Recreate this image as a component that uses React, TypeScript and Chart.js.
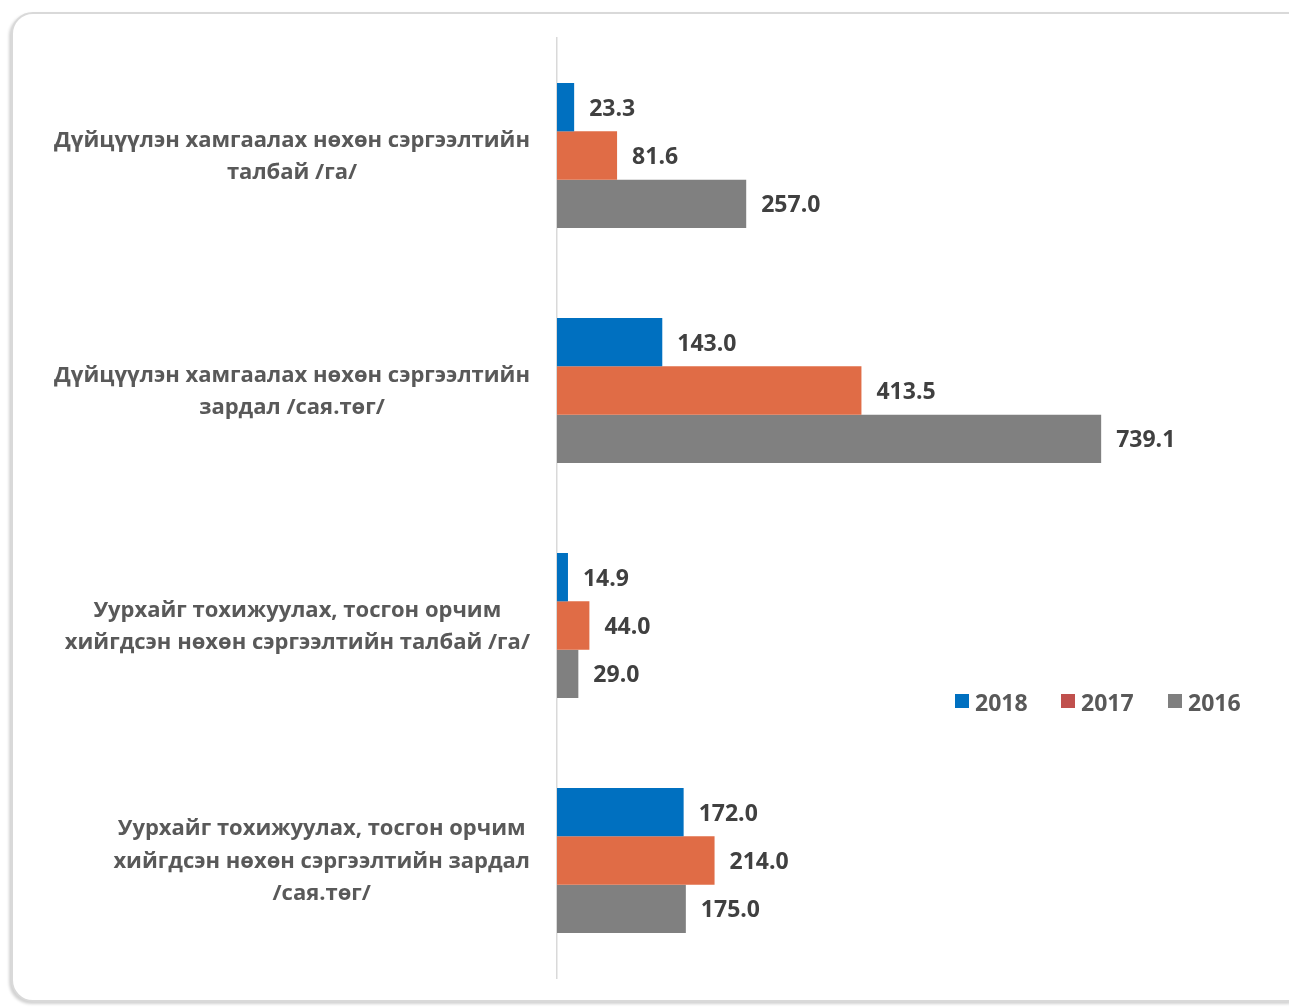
import React, { useEffect, useRef } from "react";
import { Chart, registerables } from "chart.js";

Chart.register(...registerables);

const categories: string[][] = [
  ["Дүйцүүлэн хамгаалах нөхөн сэргээлтийн", "талбай /га/"],
  ["Дүйцүүлэн хамгаалах нөхөн сэргээлтийн", "зардал /сая.төг/"],
  ["Уурхайг тохижуулах, тосгон орчим", "хийгдсэн нөхөн сэргээлтийн талбай /га/"],
  ["Уурхайг тохижуулах, тосгон орчим", "хийгдсэн нөхөн сэргээлтийн зардал", "/сая.төг/"],
];
const seriesNames = ["2018", "2017", "2016"];
const values2018 = [23.3, 143.0, 14.9, 172.0];
const values2017 = [81.6, 413.5, 44.0, 214.0];
const values2016 = [257.0, 739.1, 29.0, 175.0];

const barColors = ["#0070C0", "#E06C46", "#808080"];
const legendColors = ["#0070C0", "#C0504D", "#7F7F7F"];
const FONT = "'Open Sans', sans-serif";

const labelPlugin = {
  id: "customLabels",
  afterDatasetsDraw(chart: any) {
    const ctx = chart.ctx as CanvasRenderingContext2D;
    ctx.save();
    // data labels
    ctx.font = `bold 23px ${FONT}`;
    ctx.fillStyle = "#404040";
    ctx.textBaseline = "middle";
    ctx.textAlign = "left";
    chart.data.datasets.forEach((ds: any, di: number) => {
      const meta = chart.getDatasetMeta(di);
      meta.data.forEach((el: any, i: number) => {
        ctx.fillText(Number(ds.data[i]).toFixed(1), el.x + 15, el.y + 2);
      });
    });
    // category labels
    const yScale = chart.scales.y;
    ctx.font = `bold 22px ${FONT}`;
    ctx.fillStyle = "#595959";
    ctx.textAlign = "center";
    const rightEdge = 530;
    const lineH = 32.5;
    categories.forEach((lines, i) => {
      const cy = yScale.getPixelForValue(i);
      let maxW = 0;
      lines.forEach((l) => (maxW = Math.max(maxW, ctx.measureText(l).width)));
      const cx = rightEdge - maxW / 2;
      const startY = cy + 1 - ((lines.length - 1) * lineH) / 2;
      lines.forEach((l, k) => ctx.fillText(l, cx, startY + k * lineH));
    });
    ctx.restore();
  },
};

export default function App() {
  const ref = useRef<HTMLCanvasElement | null>(null);
  useEffect(() => {
    if (!ref.current) return;
    const chart = new Chart(ref.current, {
      type: "bar",
      data: {
        labels: categories.map((c) => c.join(" ")),
        datasets: [values2018, values2017, values2016].map((d, i) => ({
          label: seriesNames[i],
          data: d,
          backgroundColor: barColors[i],
          borderWidth: 0,
          barPercentage: 1.0,
          categoryPercentage: 0.617,
        })),
      },
      options: {
        indexAxis: "y",
        animation: false,
        responsive: false,
        maintainAspectRatio: false,
        layout: { padding: { left: 0, top: 38, bottom: 29, right: 143 } },
        plugins: { legend: { display: false }, tooltip: { enabled: false } },
        scales: {
          x: { display: false, min: 0, max: 800 },
          y: {
            display: true,
            ticks: { display: false },
            grid: { display: false, drawTicks: false },
            border: { display: true, color: "#D9D9D9", width: 1.5 },
            afterFit: (scale: any) => {
              scale.width = 557;
            },
          },
        },
      },
      plugins: [labelPlugin],
    });
    return () => chart.destroy();
  }, []);

  const legendItems = [
    { x: 955, tx: 975 },
    { x: 1061, tx: 1081 },
    { x: 1168, tx: 1188 },
  ];

  return (
    <div style={{ position: "absolute", left: 0, top: 0, width: 1289, height: 1007, overflow: "hidden", background: "#fff" }}>
      <div
        style={{
          position: "absolute",
          left: 11,
          top: 12,
          width: 1300,
          height: 990,
          border: "2px solid #D9D9D9",
          borderRadius: 22,
          boxShadow: "-2px 2px 3px rgba(0,0,0,0.18)",
          boxSizing: "border-box",
          background: "#fff",
        }}
      />
      <canvas ref={ref} width={1289} height={1007} style={{ position: "absolute", left: 0, top: 0, width: 1289, height: 1007 }} />
      {seriesNames.map((n, i) => (
        <div key={n}>
          <div
            style={{
              position: "absolute",
              left: legendItems[i].x,
              top: 694,
              width: 14,
              height: 14,
              background: legendColors[i],
            }}
          />
          <div
            style={{
              position: "absolute",
              left: legendItems[i].tx,
              top: 686,
              height: 30,
              lineHeight: "30px",
              font: `bold 23px ${FONT}`,
              color: "#595959",
            }}
          >
            {n}
          </div>
        </div>
      ))}
    </div>
  );
}
